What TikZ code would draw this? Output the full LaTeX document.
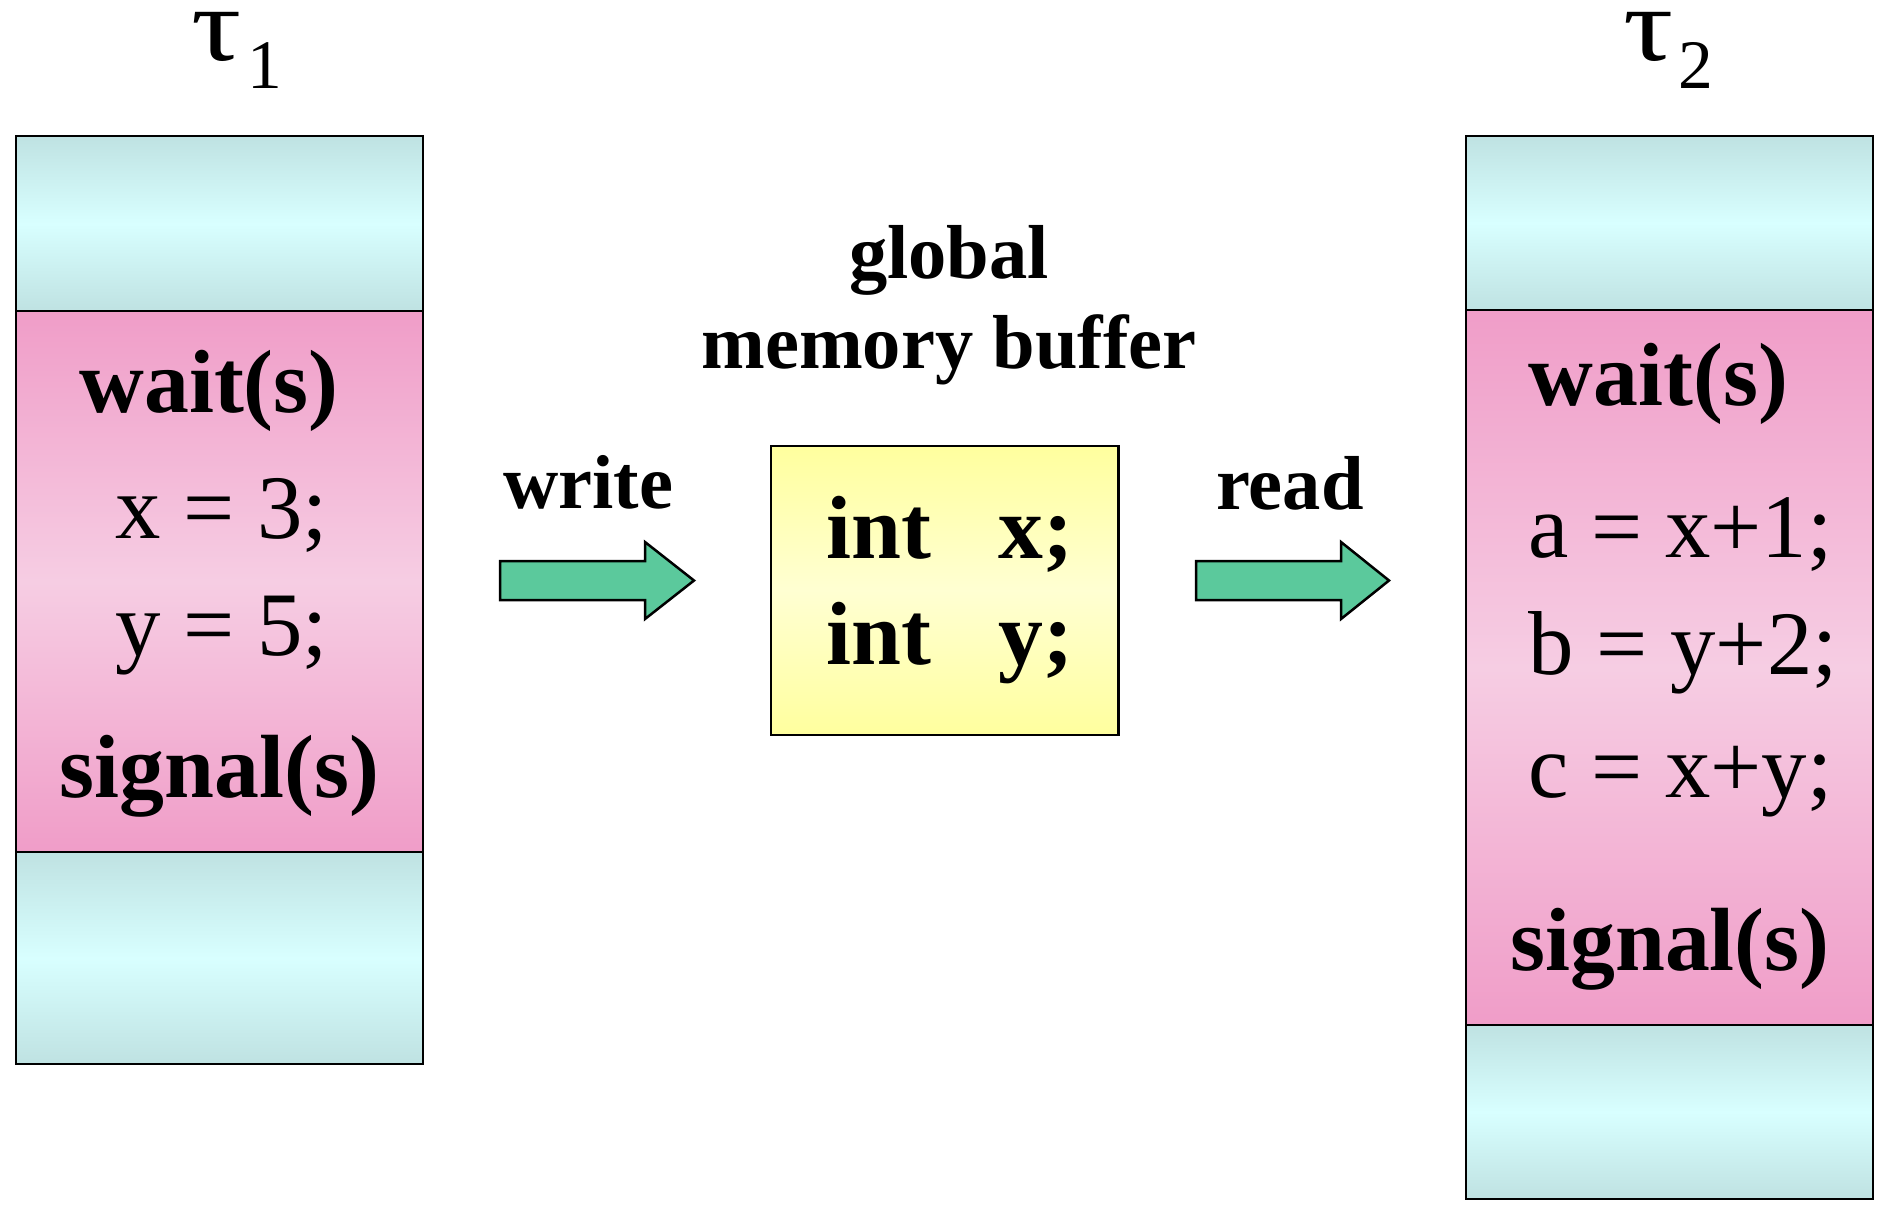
\documentclass[tikz,border=0pt]{standalone}
\usepackage{fontspec}
\setmainfont{Liberation Serif}
\definecolor{cyanedge}{HTML}{BFE2E2}
\definecolor{cyanmid}{HTML}{D8FFFF}
\definecolor{pinkedge}{HTML}{F09DC8}
\definecolor{pinkmid}{HTML}{F6CDE3}
\definecolor{yellowedge}{HTML}{FFFF9E}
\definecolor{yellowmid}{HTML}{FFFFD2}
\definecolor{arrowgreen}{HTML}{5BC99C}
\begin{document}
\begin{tikzpicture}[x=0.4pt,y=-0.4pt,
    idlepart/.style={draw=black,line width=1.1pt,top color=cyanedge,bottom color=cyanedge,middle color=cyanmid},
    critpart/.style={draw=black,line width=1.1pt,top color=pinkedge,bottom color=pinkedge,middle color=pinkmid},
    bufferbox/.style={draw=black,line width=1pt,top color=yellowedge,bottom color=yellowedge,middle color=yellowmid},
    blockarrow/.style={draw=black,line width=1pt,fill=arrowgreen,line join=miter},
    tasklabel/.style={inner sep=0pt,anchor=base west,font=\fontsize{42}{48}\selectfont},
    tasksub/.style={inner sep=0pt,anchor=base west,font=\fontsize{27.8}{32}\selectfont},
    semop/.style={inner sep=0pt,anchor=base,font=\fontsize{35.9}{40}\selectfont\bfseries},
    stmt/.style={inner sep=0pt,anchor=base west,font=\fontsize{36.3}{40}\selectfont},
    caption/.style={inner sep=0pt,anchor=base,font=\fontsize{30.6}{36}\selectfont\bfseries}]
    \useasboundingbox (0,0) rectangle (1878,1208);

    % task 1
    \node[tasklabel] (tau1) at (191,60) {\smash{\scalebox{1.19}[1]{τ}}};
    \node[tasksub] (tau1sub) at (247,88) {\smash{1}};
    \draw[idlepart] (16,136) rectangle (423,311);
    \draw[critpart] (16,311) rectangle (423,852);
    \draw[idlepart] (16,852) rectangle (423,1064);
    \node[semop] (wait1) at (209,412) {wait(s)};
    \node[stmt] (setx) at (115,538) {x = 3;};
    \node[stmt] (sety) at (115,655) {y = 5;};
    \node[semop] (signal1) at (219.5,797) {signal(s)};

    % shared buffer
    \node[caption] (global) at (949,278.5) {global};
    \node[caption] (membuf) at (949,368) {memory buffer};
    \draw[bufferbox] (771,446) rectangle (1118.5,735);
    \node[semop,anchor=base west] (intx) at (826,558) {int\hspace{27pt}x;};
    \node[semop,anchor=base west] (inty) at (826,664) {int\hspace{27pt}y;};

    % write / read
    \node[caption] (write) at (588,508) {write};
    \coordinate (wtail) at (500,580.5);
    \draw[blockarrow] (wtail) ++(0,-19.5) -- ++(145,0) -- ++(0,-19) -- ++(49,38.5)
        -- ++(-49,38.5) -- ++(0,-19) -- ++(-145,0) -- cycle;
    \node[caption] (read) at (1290,509) {read};
    \coordinate (rtail) at (1196,580.5);
    \draw[blockarrow] (rtail) ++(0,-19.5) -- ++(145,0) -- ++(0,-19) -- ++(48,38.5)
        -- ++(-48,38.5) -- ++(0,-19) -- ++(-145,0) -- cycle;

    % task 2
    \node[tasklabel] (tau2) at (1623,60) {\smash{\scalebox{1.19}[1]{τ}}};
    \node[tasksub] (tau2sub) at (1678,88) {\smash{2}};
    \draw[idlepart] (1466,136) rectangle (1873,310);
    \draw[critpart] (1466,310) rectangle (1873,1025);
    \draw[idlepart] (1466,1025) rectangle (1873,1199);
    \node[semop] (wait2) at (1658.5,405) {wait(s)};
    \node[stmt] (seta) at (1528,557) {a = x+1;};
    \node[stmt] (setb) at (1528,674) {b = y+2;};
    \node[stmt] (setc) at (1528,797) {c = x+y;};
    \node[semop] (signal2) at (1670,970) {signal(s)};
\end{tikzpicture}
\end{document}
